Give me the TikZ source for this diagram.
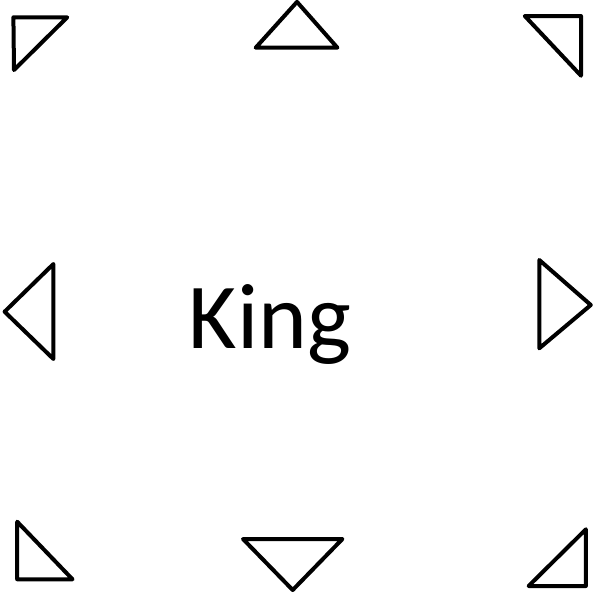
\documentclass[tikz,border=0pt]{standalone}
\usepackage{fontspec}
\setmainfont{Carlito}
\begin{document}
\begin{tikzpicture}[x=1pt,y=-1pt,
  tri/.style={draw=black,line width=4pt,line join=round,line cap=round}]
\useasboundingbox (0,0) rectangle (600,600);
\draw[tri] (13.4,17.3) -- (67.2,17.3) -- (14,70) -- cycle;
\draw[tri] (297,1.9) -- (337.4,47.7) -- (255.7,47.7) -- cycle;
\draw[tri] (524.8,16) -- (581,16) -- (581,75.7) -- cycle;
\draw[tri] (4.6,311.7) -- (53.4,264) -- (53.4,359) -- cycle;
\draw[tri] (539.3,260) -- (590.8,305) -- (539.3,348.3) -- cycle;
\draw[tri] (17.2,521.7) -- (17.2,579.3) -- (72.5,579.3) -- cycle;
\draw[tri] (243,539) -- (342.4,539) -- (292.7,590) -- cycle;
\draw[tri] (528.6,586) -- (585.9,529.3) -- (585.9,586) -- cycle;
\node[anchor=base,inner sep=0pt,font=\fontsize{93}{100}\selectfont] (king) at (270,348.3) {King};
\end{tikzpicture}
\end{document}
